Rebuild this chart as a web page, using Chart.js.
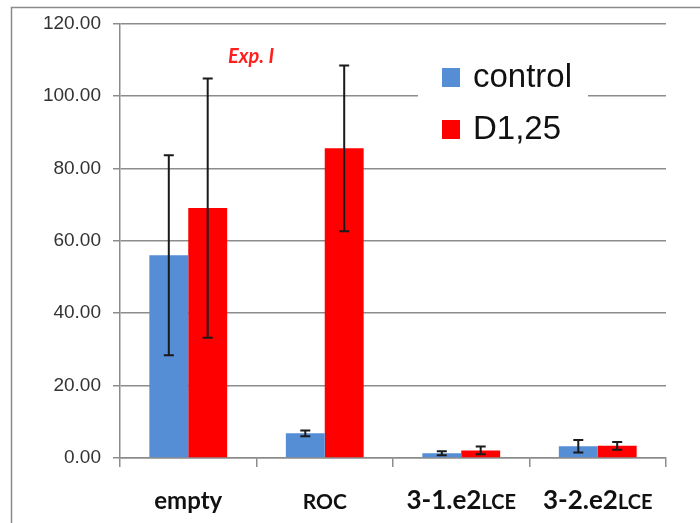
<!DOCTYPE html>
<html><head><meta charset="utf-8">
<script src="https://cdn.jsdelivr.net/npm/chart.js@4"></script>
<style>html,body{margin:0;padding:0;background:#fff}#wrap{width:700px;height:523px;position:relative}</style>
</head><body><div id="wrap"><canvas id="c" width="700" height="523"></canvas></div>
<script>
const categories = ['empty', 'ROC', '3-1.e2LCE', '3-2.e2LCE'];
const controlValues = [56.0, 6.8, 1.3, 3.25];
const controlErrors = [27.6, 0.8, 0.55, 1.75];
const d125Values = [69.0, 85.5, 2.1, 3.35];
const d125Errors = [35.8, 22.9, 1.05, 1.1];
const seriesNames = ['control', 'D1,25'];
const yTicks = [0, 20, 40, 60, 80, 100, 120];
const annotationText = 'Exp. I';

const GREY = '#8c8c8c';

const framePlugin = {
  id: 'frame',
  beforeDraw(chart) {
    const c = chart.ctx;
    c.save();
    c.fillStyle = '#fff';
    c.fillRect(0, 0, chart.width, chart.height);
    c.strokeStyle = '#8a8a8a';
    c.lineWidth = 1.5;
    c.strokeRect(11.5, 7.5, 720, 600);
    c.restore();
  }
};

const errorBarPlugin = {
  id: 'errorBars',
  afterDatasetsDraw(chart) {
    const c = chart.ctx, y = chart.scales.y;
    chart.data.datasets.forEach((ds, di) => {
      const meta = chart.getDatasetMeta(di);
      meta.data.forEach((bar, i) => {
        const v = ds.data[i], e = ds.errors[i];
        const x = bar.x;
        const yt = y.getPixelForValue(v + e), yb = y.getPixelForValue(v - e);
        c.save();
        c.strokeStyle = '#1a1a1a';
        c.lineWidth = 2;
        c.beginPath();
        c.moveTo(x, yt); c.lineTo(x, yb);
        c.moveTo(x - 5, yt); c.lineTo(x + 5, yt);
        c.moveTo(x - 5, yb); c.lineTo(x + 5, yb);
        c.stroke();
        c.restore();
      });
    });
  }
};

const labelsPlugin = {
  id: 'xLabels',
  afterDraw(chart) {
    const c = chart.ctx, xs = chart.scales.x, area = chart.chartArea;
    const base = area.bottom + 51;
    c.save();
    c.fillStyle = '#111';
    c.textBaseline = 'alphabetic';
    c.textAlign = 'left';
    categories.forEach((lab, i) => {
      const x = xs.getPixelForValue(i);
      const m = lab.match(/^(.*?)(LCE)$/);
      let parts;
      if (m) parts = [[m[1], 'bold 26px Lato'], [m[2], 'bold 20px Lato']];
      else if (lab === 'empty') parts = [[lab, 'bold 24px Lato']];
      else parts = [[lab, 'bold 21px Lato']];
      let w = 0;
      parts.forEach(p => { c.font = p[1]; w += c.measureText(p[0]).width; });
      let cx = x - w / 2;
      parts.forEach(p => { c.font = p[1]; c.fillText(p[0], cx, base); cx += c.measureText(p[0]).width; });
    });
    // annotation
    c.font = 'italic bold 20px Lato';
    c.fillStyle = '#ff1f1f';
    c.fillText(annotationText, area.left + 108, 63);
    // legend
    const lx = area.left + 298;
    c.fillStyle = '#fff';
    c.fillRect(lx, 52, 170, 100);
    chart.data.datasets.forEach((ds, i) => {
      const rowY = 68 + i * 52;
      c.fillStyle = ds.backgroundColor;
      c.fillRect(lx + 24, rowY, 18, 19);
      c.fillStyle = '#111';
      c.font = '33px "Liberation Sans"';
      c.fillText(ds.label, lx + 55, rowY + 19);
    });
    c.restore();
  }
};

new Chart(document.getElementById('c'), {
  type: 'bar',
  data: {
    labels: categories,
    datasets: [
      { label: seriesNames[0], data: controlValues, errors: controlErrors, backgroundColor: '#558ED5', categoryPercentage: 0.57, barPercentage: 1.0 },
      { label: seriesNames[1], data: d125Values, errors: d125Errors, backgroundColor: '#FF0000', categoryPercentage: 0.57, barPercentage: 1.0 }
    ]
  },
  options: {
    responsive: false,
    animation: false,
    layout: { padding: { left: 0, right: 34, top: 22, bottom: 0 } },
    plugins: { legend: { display: false }, tooltip: { enabled: false } },
    scales: {
      x: {
        grid: { display: true, drawOnChartArea: false, drawTicks: true, tickLength: 9, color: GREY, lineWidth: 1.5, offset: true },
        border: { color: GREY, width: 1.5 },
        ticks: { display: false },
        afterFit: s => { s.height = 65; }
      },
      y: {
        min: 0, max: 120,
        afterBuildTicks: s => { s.ticks = yTicks.map(v => ({ value: v })); },
        ticks: { callback: v => Number(v).toFixed(2), font: { family: 'Liberation Sans', size: 19 }, color: '#333', padding: 12 },
        grid: { color: GREY, lineWidth: 1.5, tickLength: 7 },
        border: { color: GREY, width: 1.5 },
        afterFit: s => { s.width = 120; }
      }
    }
  },
  plugins: [framePlugin, errorBarPlugin, labelsPlugin]
});
</script></body></html>
